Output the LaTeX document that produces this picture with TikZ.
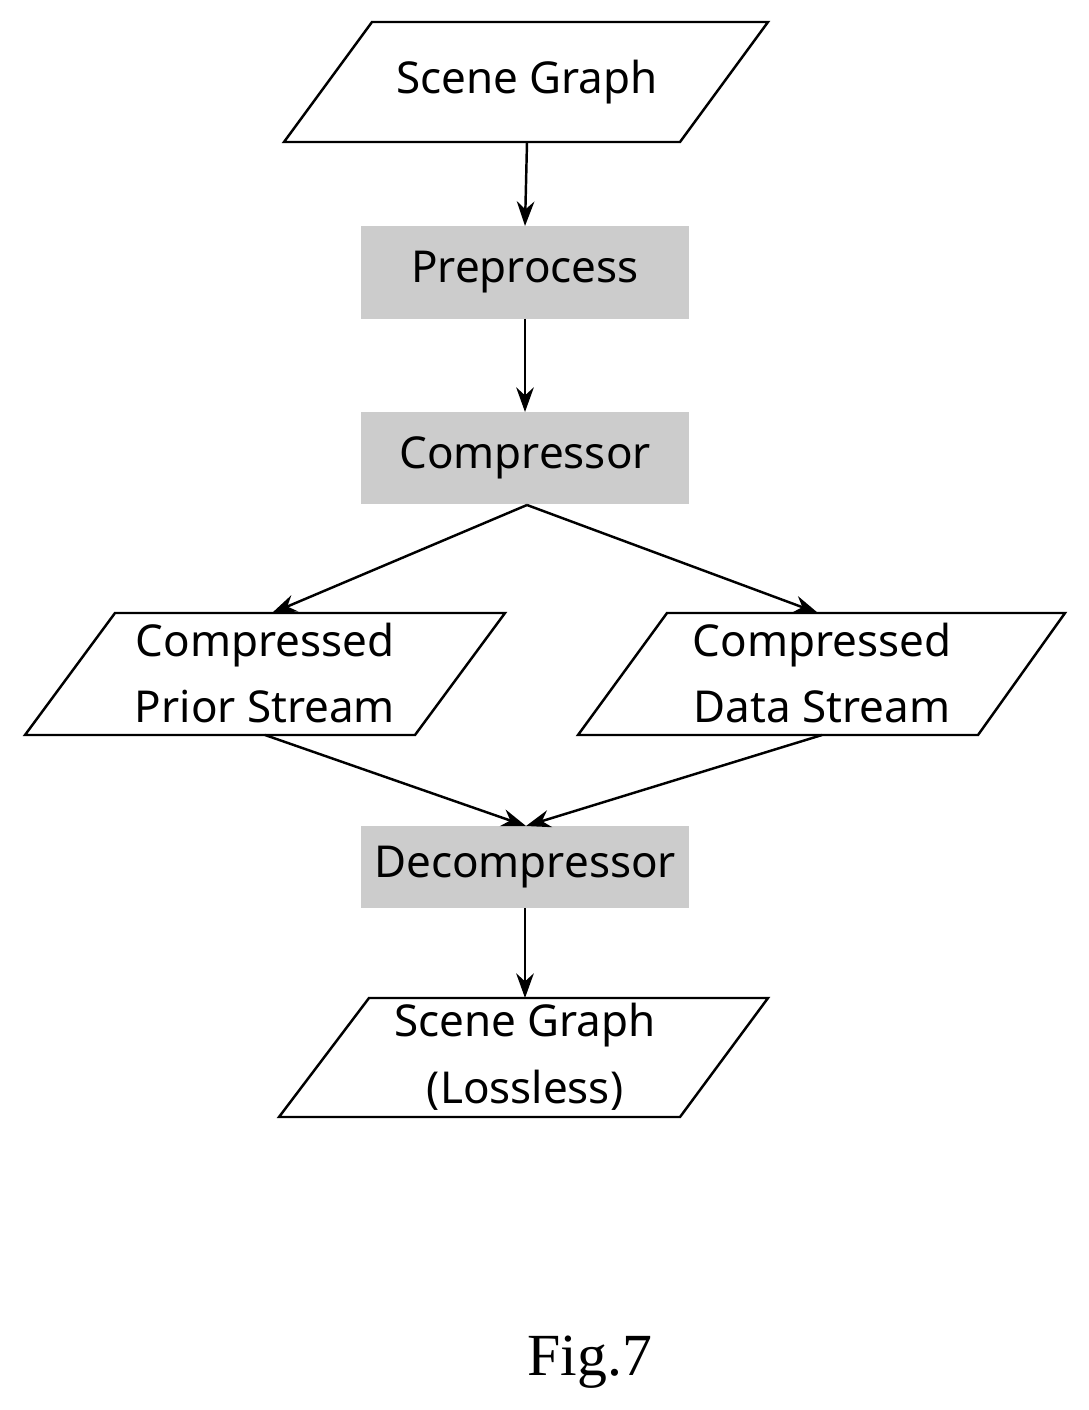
\documentclass[tikz,border=0pt]{standalone}
\usepackage{fontspec}
\setmainfont{Noto Sans}
\newfontfamily\figfont{Liberation Serif}
\usetikzlibrary{arrows.meta}
\tikzset{
  io/.style={draw, line width=0.7pt},
  proc/.style={fill=gray!40, draw=none},
  lbl/.style={font=\fontsize{12.5}{19}\selectfont, align=center},
  flow/.style={-{Stealth[length=7pt,width=5pt]}, line width=0.7pt},
}
\begin{document}
\begin{tikzpicture}[x=0.01cm,y=-0.01cm]
  \useasboundingbox (0,0) rectangle (1088,1410);
  % input
  \draw [io] (372,22) -- (768,22) -- (680,142) -- (284,142) -- cycle;
  \node [lbl] (sg) at (527,82) {Scene Graph};
  \coordinate (sgS) at (527,142);
  % boxes
  \fill [proc] (361,226) rectangle (689,319);
  \node [lbl] (pre) at (525,272) {Preprocess};
  \fill [proc] (361,412) rectangle (689,504);
  \node [lbl] (comp) at (525,458) {Compressor};
  \fill [proc] (361,826) rectangle (689,908);
  \node [lbl] (dec) at (525,867) {Decompressor};
  \coordinate (preN) at (525,226);
  \coordinate (preS) at (525,319);
  \coordinate (compN) at (525,412);
  \coordinate (compS) at (527,505);
  \coordinate (decN) at (526,826);
  \coordinate (decS) at (525,908);
  % streams
  \draw [io] (115,613) -- (505,613) -- (415,735) -- (25,735) -- cycle;
  \node [lbl] (prior) at (265,673) {Compressed\\Prior Stream};
  \draw [io] (667,613) -- (1065,613) -- (978,735) -- (578,735) -- cycle;
  \node [lbl] (data) at (822,673) {Compressed\\Data Stream};
  \coordinate (priorN) at (272,613);
  \coordinate (priorS) at (265,735);
  \coordinate (dataN) at (818,613);
  \coordinate (dataS) at (822,735);
  % output
  \draw [io] (369,998) -- (768,998) -- (680,1117) -- (279,1117) -- cycle;
  \node [lbl] (out) at (525,1057) {Scene Graph\\(Lossless)};
  \coordinate (outN) at (525,998);
  % arrows
  \draw [flow] (sgS) -- (preN);
  \draw [flow] (preS) -- (compN);
  \draw [flow] (compS) -- (priorN);
  \draw [flow] (compS) -- (dataN);
  \draw [flow] (priorS) -- (decN);
  \draw [flow] (dataS) -- (decN);
  \draw [flow] (decS) -- (outN);
  \node [font=\figfont\fontsize{17}{20}\selectfont] (fig) at (590,1362) {Fig.7};
\end{tikzpicture}
\end{document}
